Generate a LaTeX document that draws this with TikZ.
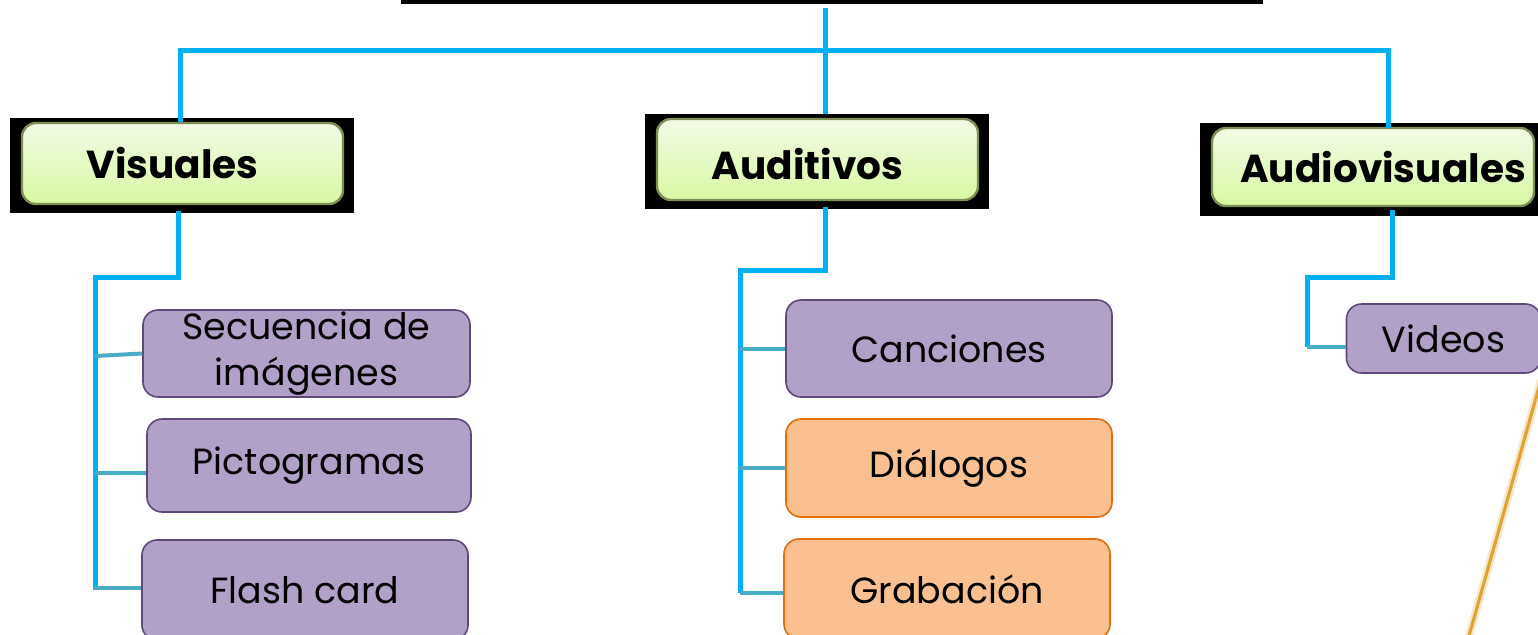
\documentclass[tikz,border=0pt]{standalone}
\usepackage{fontspec}
\setmainfont{Poppins}
\usetikzlibrary{calc}
\definecolor{cyanline}{HTML}{00B0F0}
\definecolor{tealline}{HTML}{4BACC6}
\definecolor{purfill}{HTML}{B1A0C7}
\definecolor{purdraw}{HTML}{5F497A}
\definecolor{orfill}{HTML}{FAC090}
\definecolor{ordraw}{HTML}{E46C0A}
\definecolor{gtop}{HTML}{F2FBE6}
\definecolor{gbot}{HTML}{D8F9A2}
\definecolor{gedge}{HTML}{7E8F55}
\definecolor{gold}{HTML}{E2A431}
\tikzset{
  frame/.style={fill=black, draw=none, rectangle, inner sep=0pt},
  headbox/.style={rectangle, rounded corners=7pt, top color=gtop, bottom color=gbot,
    draw=gedge, line width=1.2pt, inner sep=0pt,
    font=\fontsize{19.5}{22}\selectfont\bfseries},
  purbox/.style={rectangle, rounded corners=7.5pt, fill=purfill, draw=purdraw, line width=0.8pt,
    inner sep=0pt, align=center, font=\fontsize{18.2}{23}\selectfont},
  orbox/.style={purbox, fill=orfill, draw=ordraw},
  trunk/.style={draw=cyanline, line width=2.5pt},
  branch/.style={draw=tealline, line width=2pt}
}
\begin{document}
\begin{tikzpicture}[x=0.5pt,y=-0.5pt]
\useasboundingbox (0,0) rectangle (1538,634);
\fill[white] (0,0) rectangle (1538,634);
\begin{scope}
\clip (0,0) rectangle (1538,634);
% title bar
\node[frame, minimum width=431pt, minimum height=2pt] (title) at (832,2) {};
% header frames
\node[frame, minimum width=172pt, minimum height=47.5pt] (visB) at (182,165.5) {};
\node[frame, minimum width=172pt, minimum height=47.5pt] (audB) at (817,161.5) {};
\node[frame, minimum width=172pt, minimum height=46.5pt] (avB) at (1372,169.5) {};
% header boxes
\node[headbox, minimum width=160.5pt, minimum height=40.5pt] (vis) at (182.5,163.5) {\hspace*{-10pt}Visuales};
\node[headbox, minimum width=160.5pt, minimum height=40.5pt] (aud) at (817.5,159.5) {\hspace*{-10pt}\raisebox{-2.5pt}[\height][\depth]{Auditivos}};
\node[headbox, minimum width=161pt, minimum height=39pt] (av) at (1373,167) {\hspace*{10pt}Audiovisuales};
% children
\node[purbox, minimum width=163.5pt, minimum height=43.5pt] (sec) at (306.5,353.5) {Secuencia de\\imágenes};
\node[purbox, minimum width=162pt, minimum height=46.5pt] (pic) at (309,465.5) {Pictogramas};
\node[purbox, minimum width=163pt, minimum height=50pt] (fla) at (305,590) {Flash card};
\node[purbox, minimum width=163pt, minimum height=48.5pt] (can) at (949,348.5) {Canciones};
\node[orbox, minimum width=163pt, minimum height=49pt] (dia) at (949,468) {Diálogos};
\node[orbox, minimum width=163pt, minimum height=50pt] (gra) at (947,589) {Grabación};
\node[purbox, minimum width=97pt, minimum height=34.5pt] (vid) at (1443.5,338.5) {Videos};
% coordinates
\coordinate (top) at (825,8);
\coordinate (hubL) at (180,50);
\coordinate (hubR) at (1388,50);
\coordinate (avIn) at (1388,128);
\coordinate (visOut) at (178,211);
\coordinate (audOut) at (825,207);
\coordinate (avOut) at (1392,210);
\coordinate (visK) at (95,277);
\coordinate (audK) at (740,270);
\coordinate (avK) at (1307,277);
\coordinate (visE) at (95,588);
\coordinate (audE) at (740,593);
\coordinate (avE) at (1307,347);
% trunk lines
\draw[trunk] (top) -- (top |- audB.north);
\draw[trunk] (vis.north -| hubL) -- (hubL) -- (hubR) -- (avIn);
\draw[trunk] (visOut) |- (visK) -- (visE);
\draw[trunk] (audOut) |- (audK) -- (audE);
\draw[trunk] (avOut) |- (avK) -- (avE);
% branches
\draw[branch] (95,356) -- (sec.west);
\draw[branch] (95,473) -- (pic.west |- 0,473);
\draw[branch] (93,588) -- (fla.west |- visE);
\draw[branch] (audK |- can.west) -- (can.west);
\draw[branch] (audK |- dia.west) -- (dia.west);
\draw[branch] (audE) -- (gra.west |- audE);
\draw[branch] (avE) -- (vid.west |- avE);
% decorative diagonal
\draw[gold!25, line width=4pt] (1541,380) -- (1469,636);
\draw[gold, line width=1.6pt] (1541,380) -- (1469,636);
\end{scope}
\end{tikzpicture}
\end{document}
